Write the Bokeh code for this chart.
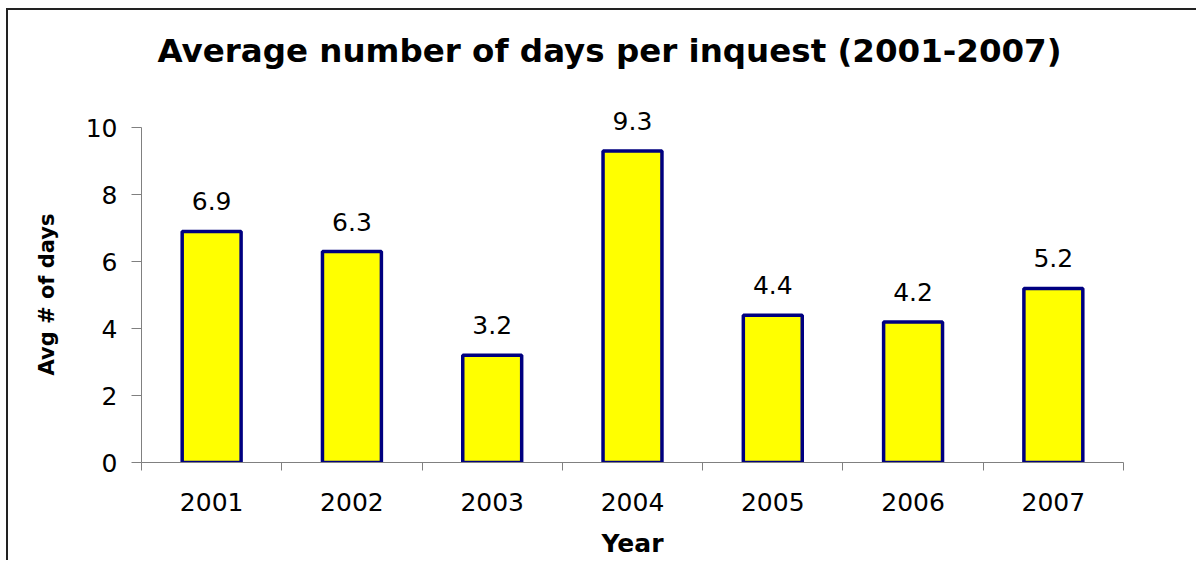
from bokeh.plotting import figure
from bokeh.models import ColumnDataSource, Range1d, FixedTicker, LabelSet, Title
from bokeh.core.properties import value
from bokeh.embed import file_html
from bokeh.resources import INLINE

years = ["2001", "2002", "2003", "2004", "2005", "2006", "2007"]
avg_days = [6.9, 6.3, 3.2, 9.3, 4.4, 4.2, 5.2]
labels = ["6.9", "6.3", "3.2", "9.3", "4.4", "4.2", "5.2"]
y_ticks = [0, 2, 4, 6, 8, 10]

xpos = [i + 0.5 for i in range(len(years))]
src = ColumnDataSource(dict(x=xpos, top=avg_days, label=labels))

p = figure(width=1190, height=552, output_backend="svg", toolbar_location=None,
           x_range=Range1d(0, len(years)), y_range=Range1d(0, 11.2),
           min_border_left=132, min_border_right=75, min_border_top=77, min_border_bottom=100,
           background_fill_color="white", border_fill_color="white")
p.outline_line_color = None
p.styles = {"margin-left": "6px", "margin-top": "8px",
            "border-left": "2px solid #222222", "border-top": "2px solid #222222"}

p.vbar(x="x", top="top", width=0.42, bottom=0, source=src,
       fill_color="#FFFF00", line_color="#000080", line_width=3.5)
p.add_layout(LabelSet(x="x", y="top", text="label", source=src, text_align="center",
                      text_baseline="alphabetic", y_offset=21,
                      text_font=value("DejaVu Sans"), text_font_size="25px",
                      text_color="black"))

p.title.text = "Average number of days per inquest (2001-2007)"
p.title.align = "left"
p.title.text_font = "DejaVu Sans"
p.title.text_font_style = "bold"
p.title.text_font_size = "32.5px"
p.title.text_color = "black"
p.title.offset = 16
p.title.standoff = 35

p.xgrid.visible = False
p.ygrid.visible = False

xa = p.xaxis[0]
xa.ticker = FixedTicker(ticks=xpos, minor_ticks=list(range(len(years) + 1)))
xa.major_label_overrides = {x: y for x, y in zip(xpos, years)}
xa.major_tick_out = 0
xa.major_tick_in = 0
xa.minor_tick_out = 8
xa.minor_tick_in = 0
xa.axis_line_color = "#808080"
xa.minor_tick_line_color = "#808080"
xa.major_label_text_font = "DejaVu Sans"
xa.major_label_text_font_size = "25px"
xa.major_label_text_color = "black"
xa.major_label_standoff = 22
xa.axis_label = "Year"
xa.axis_label_text_font = "DejaVu Sans"
xa.axis_label_text_font_style = "bold"
xa.axis_label_text_font_size = "25px"
xa.axis_label_text_color = "black"
xa.axis_label_standoff = 15

ya = p.yaxis[0]
ya.ticker = FixedTicker(ticks=y_ticks, minor_ticks=[])
ya.bounds = (0, 10)
ya.major_tick_out = 10
ya.major_tick_in = 0
ya.axis_line_color = "#808080"
ya.major_tick_line_color = "#808080"
ya.major_label_text_font = "DejaVu Sans"
ya.major_label_text_font_size = "25px"
ya.major_label_text_color = "black"
ya.major_label_standoff = 14

ytitle = Title(text="Avg # of days", align="left", offset=87, standoff=48,
               text_font="DejaVu Sans", text_font_style="bold", text_font_size="21px",
               text_color="black")
p.add_layout(ytitle, "left")

open("out.html", "w").write(file_html(p, INLINE))
